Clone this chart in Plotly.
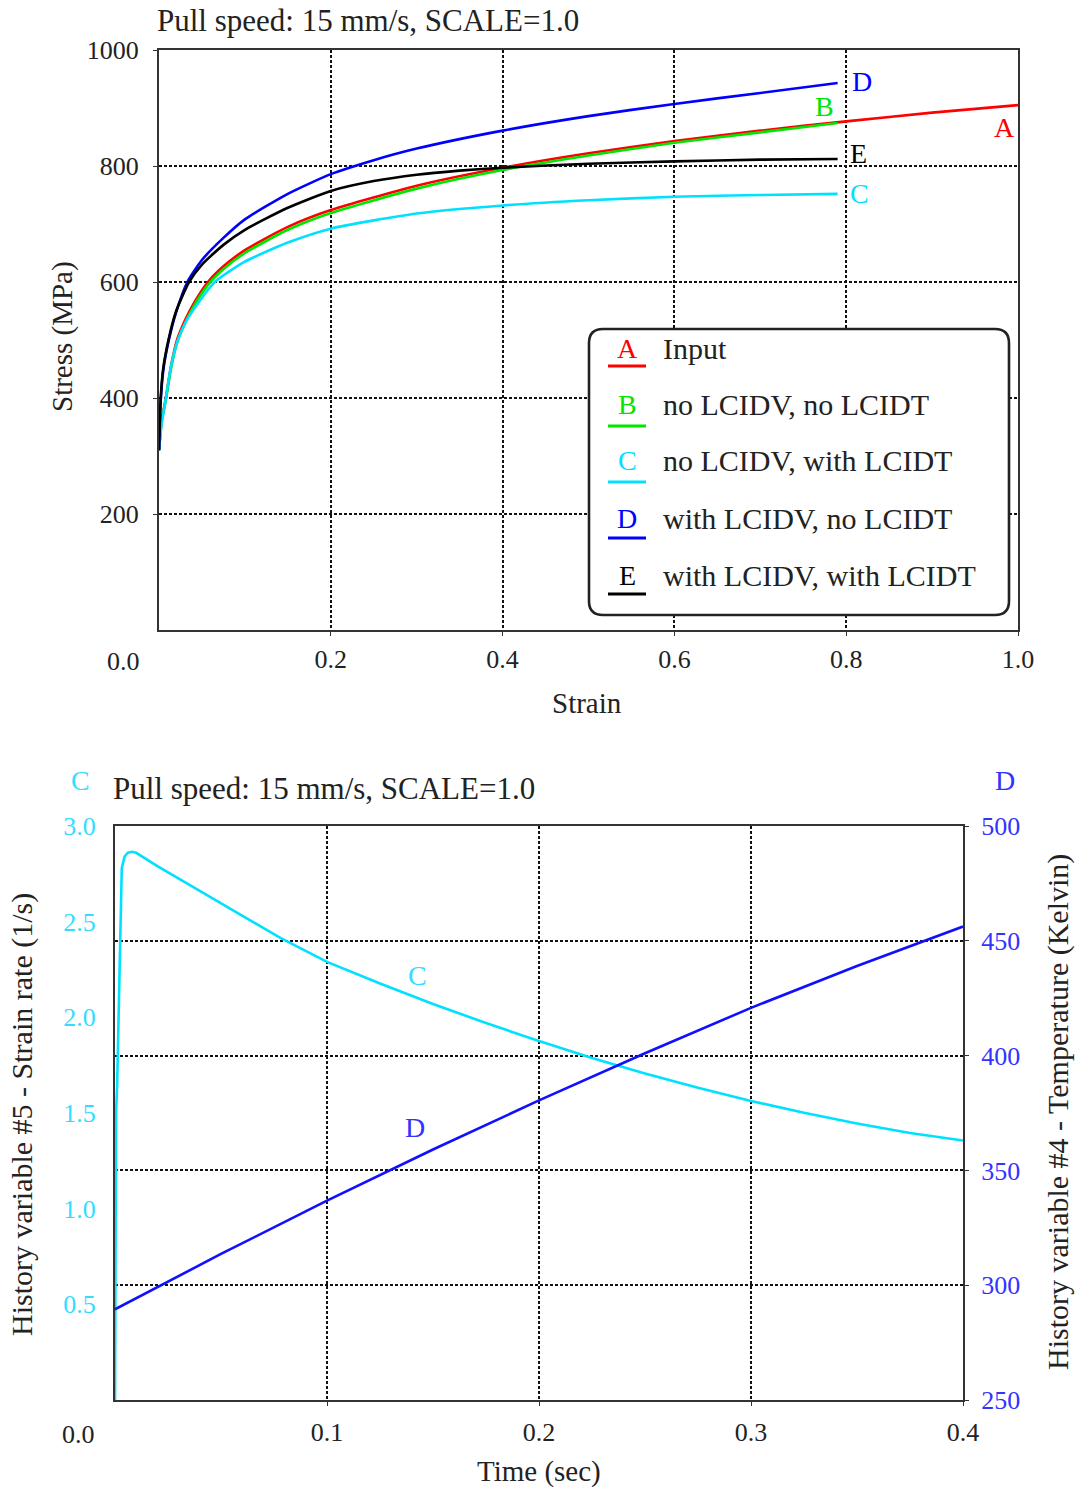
import plotly.graph_objects as go

# ---------------- data: top chart (stress-strain) ----------------
strain_A = [0, 0.003, 0.008, 0.014, 0.021, 0.03, 0.04, 0.057, 0.075, 0.1, 0.15, 0.2, 0.3, 0.4, 0.5, 0.6, 0.7, 0.8, 0.9, 1.0]
stress_A = [310, 360, 400, 455, 500, 533, 562, 600, 627, 655, 695, 724, 766, 797, 822, 843, 861, 877, 892, 905]

strain_B = [0, 0.003, 0.008, 0.014, 0.021, 0.03, 0.04, 0.057, 0.075, 0.1, 0.15, 0.2, 0.3, 0.4, 0.5, 0.6, 0.7, 0.79]
stress_B = [310, 358, 397, 451, 495, 528, 557, 595, 622, 650, 690, 719, 761, 793, 818, 840, 858, 874]

strain_C = [0, 0.003, 0.008, 0.014, 0.022, 0.03, 0.04, 0.065, 0.1, 0.15, 0.2, 0.3, 0.4, 0.5, 0.6, 0.7, 0.79]
stress_C = [310, 355, 400, 455, 500, 528, 552, 600, 635, 668, 692, 718, 732, 741, 747, 750, 752]

strain_D = [0, 0.002, 0.005, 0.011, 0.02, 0.033, 0.05, 0.075, 0.1, 0.15, 0.2, 0.25, 0.3, 0.4, 0.5, 0.6, 0.7, 0.79]
stress_D = [310, 395, 448, 497, 548, 600, 638, 676, 708, 752, 786, 810, 830, 861, 886, 907, 926, 943]

strain_E = [0, 0.002, 0.005, 0.011, 0.02, 0.035, 0.05, 0.075, 0.1, 0.15, 0.2, 0.25, 0.3, 0.35, 0.4, 0.5, 0.6, 0.7, 0.79]
stress_E = [310, 400, 452, 500, 550, 600, 630, 664, 690, 728, 757, 774, 785, 792, 797, 804, 808, 811, 812]

series_letters = ["A", "B", "C", "D", "E"]
series_names = ["Input", "no LCIDV, no LCIDT", "no LCIDV, with LCIDT",
                "with LCIDV, no LCIDT", "with LCIDV, with LCIDT"]
series_colors = ["#ff0000", "#00e600", "#00e1ff", "#0000ff", "#000000"]

strain_ticks = [0.2, 0.4, 0.6, 0.8, 1.0]
stress_ticks = [200, 400, 600, 800, 1000]

# ---------------- data: bottom chart (history variables) ----------------
time_C = [0, 0.0005, 0.001, 0.0015, 0.0024, 0.0032, 0.0045, 0.006, 0.0079, 0.01, 0.02, 0.04, 0.06,
          0.078, 0.1, 0.125, 0.15, 0.175, 0.2, 0.225, 0.25, 0.275, 0.3, 0.325, 0.35, 0.375, 0.4]
rate_C = [0, 1.5, 1.64, 1.9, 2.41, 2.78, 2.84, 2.86, 2.865, 2.86, 2.79, 2.66, 2.53,
          2.415, 2.29, 2.177, 2.070, 1.970, 1.876, 1.788, 1.707, 1.632, 1.563, 1.501, 1.445, 1.395, 1.356]

time_D = [0, 0.05, 0.1, 0.15, 0.2, 0.25, 0.3, 0.35, 0.4]
temp_D = [289.5, 313.6, 336.8, 359.1, 380.5, 401.0, 420.8, 439.0, 456.2]

time_ticks = [0.1, 0.2, 0.3, 0.4]
rate_ticks = [0.5, 1.0, 1.5, 2.0, 2.5, 3.0]
temp_ticks = [250, 300, 350, 400, 450, 500]

W, H = 1078, 1487
FONT = "Liberation Serif"
CYAN_T = "#33ddff"
BLUE_T = "#3333ff"
TXT = "#222222"


def px(x):
    return x / W


def py(y):
    return 1 - y / H


fig = go.Figure()

top_data = [(strain_A, stress_A), (strain_B, stress_B), (strain_C, stress_C),
            (strain_D, stress_D), (strain_E, stress_E)]
for (xs, ys), name, col in zip(top_data, series_names, series_colors):
    fig.add_trace(go.Scatter(x=xs, y=ys, mode="lines", name=name,
                             line=dict(color=col, width=2.6, shape="spline", smoothing=0.6),
                             xaxis="x", yaxis="y", showlegend=False))

fig.add_trace(go.Scatter(x=time_C, y=rate_C, mode="lines", name="Strain rate",
                         line=dict(color="#00e1ff", width=2.6),
                         xaxis="x2", yaxis="y2", showlegend=False))
fig.add_trace(go.Scatter(x=time_D, y=temp_D, mode="lines", name="Temperature",
                         line=dict(color="#1010ff", width=2.6),
                         xaxis="x2", yaxis="y3", showlegend=False))

grid = dict(showgrid=True, gridcolor="#111111", gridwidth=1.6, griddash="3px,2px",
            zeroline=False, showline=True, linecolor="#333333", linewidth=2,
            ticks="outside", ticklen=4, tickcolor="#333333", automargin=False)
tickfont = dict(family=FONT, size=26, color=TXT)

fig.update_layout(
    template="none",
    width=W, height=H, autosize=False,
    margin=dict(l=0, r=0, t=0, b=0, pad=0),
    paper_bgcolor="white", plot_bgcolor="white",
    font=dict(family=FONT, color=TXT),
    xaxis=dict(domain=[px(159), px(1018)], range=[0, 1], anchor="y",
               tickvals=strain_ticks, ticktext=[f"{v:.1f}" for v in strain_ticks],
               mirror=True, tickfont=tickfont, ticklabelstandoff=1, **grid),
    yaxis=dict(domain=[py(630), py(50)], range=[0, 1000], anchor="x",
               tickvals=stress_ticks, ticktext=[str(v) for v in stress_ticks],
               mirror=True, tickfont=tickfont, ticklabelstandoff=9, **grid),
    xaxis2=dict(domain=[px(115), px(963)], range=[0, 0.4], anchor="y2",
                tickvals=time_ticks, ticktext=[f"{v:.1f}" for v in time_ticks],
                mirror=True, tickfont=tickfont, ticklabelstandoff=4, **grid),
    yaxis2=dict(domain=[py(1400), py(826)], range=[0, 3], anchor="x2",
                tickvals=rate_ticks, ticktext=[f"{v:.1f}" for v in rate_ticks],
                showgrid=False, zeroline=False, showline=True, linecolor="#333333", linewidth=2,
                ticks="", automargin=False,
                tickfont=dict(family=FONT, size=26, color=CYAN_T), ticklabelstandoff=12),
    yaxis3=dict(range=[250, 500], overlaying="y2", side="right", anchor="x2",
                tickvals=temp_ticks, ticktext=[str(v) for v in temp_ticks],
                showgrid=True, gridcolor="#111111", gridwidth=1.6, griddash="3px,2px",
                zeroline=False, showline=True, linecolor="#333333", linewidth=2,
                ticks="outside", ticklen=4, tickcolor="#333333", automargin=False,
                tickfont=dict(family=FONT, size=26, color=BLUE_T), ticklabelstandoff=7),
)

ann = []


def add_text(text, x, y, size=26, color=TXT, xanchor="center", angle=0):
    ann.append(dict(text=text, x=px(x), y=py(y), xref="paper", yref="paper",
                    showarrow=False, xanchor=xanchor, yanchor="middle", textangle=angle,
                    font=dict(family=FONT, size=size, color=color)))


# titles
add_text("Pull speed: 15 mm/s, SCALE=1.0", 155, 20, size=31, xanchor="left")
add_text("Pull speed: 15 mm/s, SCALE=1.0", 111, 789, size=31, xanchor="left")
# axis titles
add_text("Stress (MPa)", 63, 337, size=29, angle=-90)
add_text("Strain", 587, 703, size=29)
add_text("Time (sec)", 539, 1471, size=29)
add_text("History variable #5 - Strain rate (1/s)", 22, 1115, size=30, angle=-90)
add_text("History variable #4 - Temperature (Kelvin)", 1058, 1112, size=30, angle=-90)
# shifted 0.0 labels
add_text("0.0", 123, 661, size=26)
add_text("0.0", 78, 1434, size=26)
# axis-owner letters in bottom chart
add_text("C", 80, 780, size=28, color=CYAN_T)
add_text("D", 1005, 780, size=28, color=BLUE_T)

# curve end labels (data coordinates)
end_labels = [("D", 0.818, 945, "#0000ff"), ("B", 0.775, 903, "#00e600"),
              ("A", 0.984, 866, "#ff0000"), ("E", 0.814, 822, "#000000"),
              ("C", 0.816, 753, "#00e1ff")]
for t, xv, yv, c in end_labels:
    ann.append(dict(text=t, x=xv, y=yv, xref="x", yref="y", showarrow=False,
                    xanchor="center", yanchor="middle",
                    font=dict(family=FONT, size=28, color=c)))
ann.append(dict(text="C", x=0.1425, y=2.22, xref="x2", yref="y2", showarrow=False,
                font=dict(family=FONT, size=28, color=CYAN_T)))
ann.append(dict(text="D", x=0.1415, y=368.9, xref="x2", yref="y3", showarrow=False,
                font=dict(family=FONT, size=28, color=BLUE_T)))

# legend box (custom)
shapes = []
x0, x1, y0, y1 = px(589), px(1009), py(615), py(329)
rx, ry = 14 / W, 14 / H
path = (f"M {x0+rx},{y1} L {x1-rx},{y1} Q {x1},{y1} {x1},{y1-ry} "
        f"L {x1},{y0+ry} Q {x1},{y0} {x1-rx},{y0} L {x0+rx},{y0} "
        f"Q {x0},{y0} {x0},{y0+ry} L {x0},{y1-ry} Q {x0},{y1} {x0+rx},{y1} Z")
shapes.append(dict(type="path", path=path, xref="paper", yref="paper",
                   line=dict(color="#222222", width=2.6), fillcolor="white", layer="above"))
letter_y = [348, 404, 461, 518, 575]
line_y = [366, 426, 482, 538, 594]
for i in range(5):
    col = series_colors[i]
    add_text(series_letters[i], 627, letter_y[i], size=28, color=col)
    add_text(series_names[i], 661, letter_y[i], size=30, xanchor="left")
    shapes.append(dict(type="line", xref="paper", yref="paper",
                       x0=px(608), x1=px(646), y0=py(line_y[i]), y1=py(line_y[i]),
                       line=dict(color=col, width=3), layer="above"))

fig.update_layout(annotations=ann, shapes=shapes)
fig.write_html("out.html")
